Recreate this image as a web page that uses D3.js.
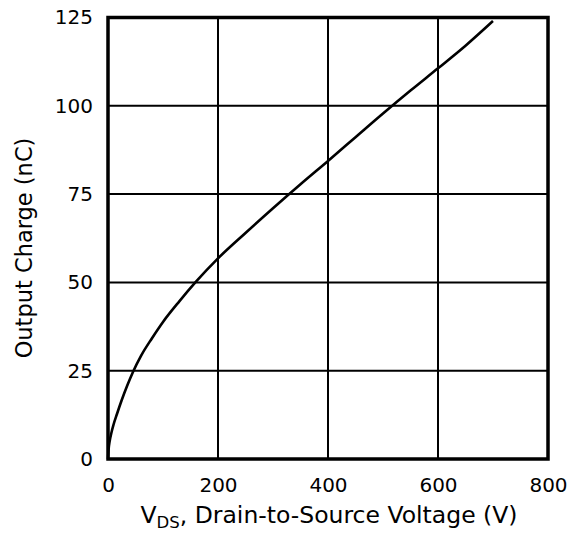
<!DOCTYPE html>
<html>
<head>
<meta charset="utf-8">
<script src="https://cdn.jsdelivr.net/npm/d3@7"></script>
<style>
  body { margin: 0; background: #fff; }
  text { font-family: "DejaVu Sans", Verdana, sans-serif; fill: #000; }
</style>
</head>
<body>
<div id="chart"></div>
<script>
// values
var vds = [0, 1, 3, 6, 10, 16, 25, 35, 45, 60, 80, 100, 130, 160, 200, 250, 300, 350, 400, 450, 500, 550, 600, 650, 700];
var qoss = [0, 2.6, 5.0, 7.3, 9.7, 12.6, 16.7, 20.8, 24.5, 29.2, 34.2, 38.8, 44.7, 50.2, 56.8, 64, 71, 77.8, 84.4, 91.1, 97.8, 104.3, 110.6, 117, 124];
var xTicks = [0, 200, 400, 600, 800];
var yTicks = [0, 25, 50, 75, 100, 125];

var margin = {top: 17.5, right: 33, bottom: 74, left: 108},
    width = 581 - margin.left - margin.right,
    height = 533 - margin.top - margin.bottom;

var svg = d3.select("#chart")
  .append("svg")
    .attr("width", 581)
    .attr("height", 533)
  .append("g")
    .attr("transform", "translate(" + margin.left + "," + margin.top + ")");

var x = d3.scaleLinear().domain([0, 800]).range([0, width]);
var y = d3.scaleLinear().domain([0, 125]).range([height, 0]);

// grid lines
svg.append("g")
  .selectAll("line")
  .data(xTicks)
  .enter()
  .append("line")
    .attr("x1", function(d) { return x(d); })
    .attr("x2", function(d) { return x(d); })
    .attr("y1", 0)
    .attr("y2", height)
    .attr("stroke", "#000")
    .attr("stroke-width", 2);

svg.append("g")
  .selectAll("line")
  .data(yTicks)
  .enter()
  .append("line")
    .attr("x1", 0)
    .attr("x2", width)
    .attr("y1", function(d) { return y(d); })
    .attr("y2", function(d) { return y(d); })
    .attr("stroke", "#000")
    .attr("stroke-width", 2);

// frame
svg.append("rect")
  .attr("x", 0)
  .attr("y", 0)
  .attr("width", width)
  .attr("height", height)
  .attr("fill", "none")
  .attr("stroke", "#000")
  .attr("stroke-width", 3.5);

// axes (labels only)
var xAxis = svg.append("g")
  .attr("transform", "translate(0," + height + ")")
  .call(d3.axisBottom(x).tickValues(xTicks).tickSize(0).tickPadding(19));
var yAxis = svg.append("g")
  .call(d3.axisLeft(y).tickValues(yTicks).tickSize(0).tickPadding(15));
[xAxis, yAxis].forEach(function(a) {
  a.select(".domain").remove();
  a.selectAll("text")
    .style("font-family", "'DejaVu Sans', Verdana, sans-serif")
    .style("font-size", "20px")
    .attr("fill", "#000");
});

// curve
var pts = vds.map(function(v, i) { return [v, qoss[i]]; });
svg.append("path")
  .datum(pts)
  .attr("fill", "none")
  .attr("stroke", "#000")
  .attr("stroke-width", 2.6)
  .attr("d", d3.line()
    .x(function(d) { return x(d[0]); })
    .y(function(d) { return y(d[1]); })
    .curve(d3.curveMonotoneX));

// X axis label
var xl = svg.append("text")
  .attr("text-anchor", "middle")
  .attr("x", width / 2 + 1)
  .attr("y", height + 64)
  .style("font-size", "23.5px");
xl.append("tspan").text("V");
xl.append("tspan").attr("dy", 5).style("font-size", "16.5px").text("DS");
xl.append("tspan").attr("dy", -5).text(", Drain-to-Source Voltage (V)");

// Y axis label
svg.append("text")
  .attr("text-anchor", "middle")
  .attr("transform", "rotate(-90)")
  .attr("x", -230.5)
  .attr("y", -margin.left + 32)
  .style("font-size", "22.5px")
  .text("Output Charge (nC)");
</script>
</body>
</html>
